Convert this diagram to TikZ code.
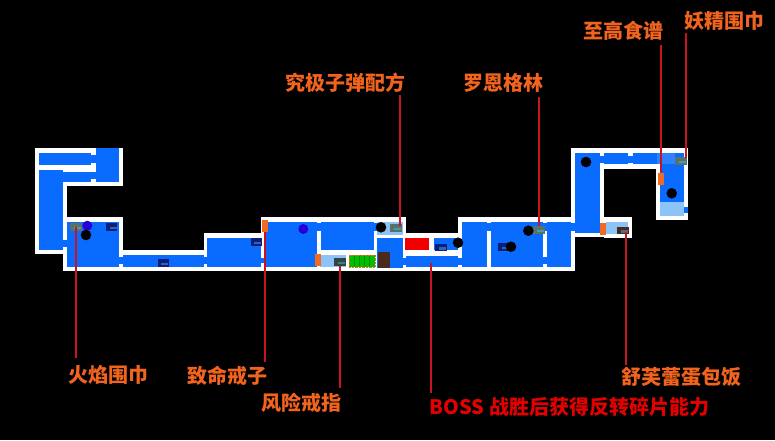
\documentclass[tikz,border=0pt]{standalone}
\usepackage{fontspec}
\newfontfamily\cjkfont{Noto Sans CJK SC}
\usetikzlibrary{positioning}
\definecolor{roomblue}{HTML}{0A6CFF}
\definecolor{roomlight}{HTML}{8CC4F8}
\definecolor{lootred}{HTML}{C8141E}
\definecolor{lootorange}{HTML}{F2641E}
\definecolor{doororange}{HTML}{F26A22}
\definecolor{icongrey}{HTML}{55736C}
\definecolor{iconnavy}{HTML}{0E1E78}
\definecolor{iconbrown}{HTML}{4A2A1C}
\tikzset{
	lootlabel/.style={font=\cjkfont\bfseries\fontsize{20}{22}\selectfont,text=lootorange,inner sep=0pt},
	lootline/.style={draw=lootred,line width=1.7pt},
	iconbox/.style={inner sep=0pt,minimum width=11.5pt,minimum height=7.5pt},
	dot/.style={circle,fill=black,inner sep=0pt,minimum size=10.6pt},
	purpledot/.style={circle,fill=blue!70!violet,inner sep=0pt,minimum size=10pt},
	doorbox/.style={fill=doororange,inner sep=0pt,minimum width=6pt,minimum height=12pt}
}
\newcommand{\mapicon}[3]{
	\node [iconbox,fill=#3] (#1) at (#2) {};
	\fill [cyan!70!white,opacity=0.45] ([xshift=4pt,yshift=-2.2pt]#1.west) rectangle ([xshift=-1pt,yshift=0.5pt]#1.east);}
\begin{document}
\begin{tikzpicture}[x=1pt,y=-1pt]
	\fill [black] (0,0) rectangle (775,440);
	% walls
	\foreach \xa/\ya/\xb/\yb in {35/148/123/186,35/148/66.7/254,62.7/216.7/122.7/270.7,122/250/205/270.7,
		204/233/262/270.7,261/216.7/406/270.7,406/233/459/270.7,458/216.7/575/270.7,571/148/604/237,
		604/216.7/632/238,571/148/688/169,656/148/688/220}
		\fill [white] (\xa,\ya) rectangle (\xb,\yb);
	% rooms and doors
	\foreach \xa/\ya/\xb/\yb in {39/153/91/165,96/148/119/182,91/155/96/163,62.7/172/91/182,91/172/96/179,
		39/170/62.7/250,62/240/67/247,66.7/221.7/118.7/266.7,118/257/123/264,122.7/255/204/266.7,
		204/257/208/264,207/237.7/261/267,261/258/264/263,264/221.7/316.7/267,316.7/223/320.7/230.7,
		320.7/221.7/374/250,374/223/377/231,376.7/238/402.7/268,402/258/406/265,406/255.7/458/267.3,
		434/238/458/250,458/258/462/265,462/221.7/486.7/267.3,486.7/223/491/230.7,491/221.7/542.7/267.3,
		542.7/223/547/230.7,542.7/256.7/547/264,547/221.7/570.7/267.3,570.7/223/575/230.7,
		575/153.3/600/233.3,600/156/604.3/162.7,604.3/153.3/628.3/164.3,628.3/156/632.7/162.7,
		632.7/153.3/684.3/164.3,660/153.3/684.3/201.7,684/207/688/213}
		\fill [roomblue] (\xa,\ya) rectangle (\xb,\yb);
	\foreach \xa/\ya/\xb/\yb in {660/201.7/684.3/216,606/221.7/628.3/234,320/255/345.7/267,376.7/221.7/402.7/235}
		\fill [roomlight] (\xa,\ya) rectangle (\xb,\yb);
	\fill [roomblue!85!white] (657,153.3) rectangle (675,164.3);
	\fill [red!95!black] (405,238) rectangle (429,250);
	% locked room
	\node [fill=green!75!black,draw=doororange,densely dotted,inner sep=0pt,minimum width=26pt,minimum height=12pt] (gate) at (362,261) {};
	\foreach \x in {354,359,364,369}
		\draw [green!55!black,line width=0.5pt] (\x,256) -- (\x,266);
	\node [fill=iconbrown,inner sep=0pt,minimum width=12pt,minimum height=16pt] (statue) at (384,260) {};
	% doors
	\node [doorbox] (doora) at (265,226) {};
	\node [doorbox] (doorb) at (317.5,260) {};
	\node [doorbox] (doorc) at (603,229) {};
	\node [doorbox] (doord) at (660.7,178.5) {};
	% icons
	\mapicon{scarf}{76,227}{icongrey}
	\mapicon{iconb}{111.7,227}{iconnavy}
	\mapicon{iconc}{163.3,263}{iconnavy}
	\mapicon{icond}{256.3,242}{iconnavy}
	\mapicon{ring}{339.8,262}{icongrey!60!black}
	\mapicon{ammo}{396,228}{icongrey}
	\mapicon{icone}{441,247.5}{iconnavy}
	\mapicon{iconf}{503.5,247}{iconnavy}
	\mapicon{lohen}{539,230}{icongrey}
	\mapicon{omelet}{623,230.5}{iconbrown}
	\mapicon{fairy}{681,161}{icongrey}
	% dots
	\node [purpledot] (purplea) at (87.3,225.7) {};
	\node [dot] (dota) at (86,235) {};
	\node [purpledot] (purpleb) at (303.3,229) {};
	\node [dot] (dotb) at (381,227.3) {};
	\node [dot] (dotc) at (458,242.7) {};
	\node [dot] (dotd) at (511,246.7) {};
	\node [dot] (dote) at (528.3,230.7) {};
	\node [dot] (dotf) at (586,162) {};
	\node [dot] (dotg) at (671.7,193.3) {};
	% labels
	\node [lootlabel] (scarflabel) at (108,375) {火焰围巾};
	\node [lootlabel] (doorlabel) at (227,376) {致命戒子};
	\node [lootlabel] (ringlabel) at (301,403) {风险戒指};
	\node [lootlabel,text=red!90!black] (bosslabel) at (569.5,407) {BOSS 战胜后获得反转碎片能力};
	\node [lootlabel] (ammolabel) at (345.5,83) {究极子弹配方};
	\node [lootlabel] (lohenlabel) at (503.5,83) {罗恩格林};
	\node [lootlabel] (recipelabel) at (623.5,31) {至高食谱};
	\node [lootlabel] (fairylabel) at (724.5,21) {妖精围巾};
	\node [lootlabel] (omeletlabel) at (681.5,377) {舒芙蕾蛋包饭};
	% pointers
	\coordinate (bossend) at (431,263);
	\coordinate (ammoend) at (400,226);
	\coordinate (fairyend) at (686,158);
	\coordinate (omeletend) at (626,232);
	\coordinate (scarfbottom) at (76,358);
	\coordinate (doorbottom) at (265,362);
	\coordinate (ringbottom) at (339.8,388);
	\coordinate (bossbottom) at (431,393);
	\coordinate (ammotop) at (400,95);
	\coordinate (lohentop) at (539,97);
	\coordinate (recipetop) at (660.7,45);
	\coordinate (fairytop) at (686,33);
	\coordinate (omeletbottom) at (626,365);
	\draw [lootline] (scarf.center) -- (scarfbottom);
	\draw [lootline] (doora) -- (doorbottom);
	\draw [lootline] (ring) -- (ringbottom);
	\draw [lootline] (bossend) -- (bossbottom);
	\draw [lootline] (ammotop) -- (ammoend);
	\draw [lootline] (lohentop) -- (lohen);
	\draw [lootline] (recipetop) -- (doord);
	\draw [lootline] (fairytop) -- (fairyend);
	\draw [lootline] (omeletend) -- (omeletbottom);
\end{tikzpicture}
\end{document}
